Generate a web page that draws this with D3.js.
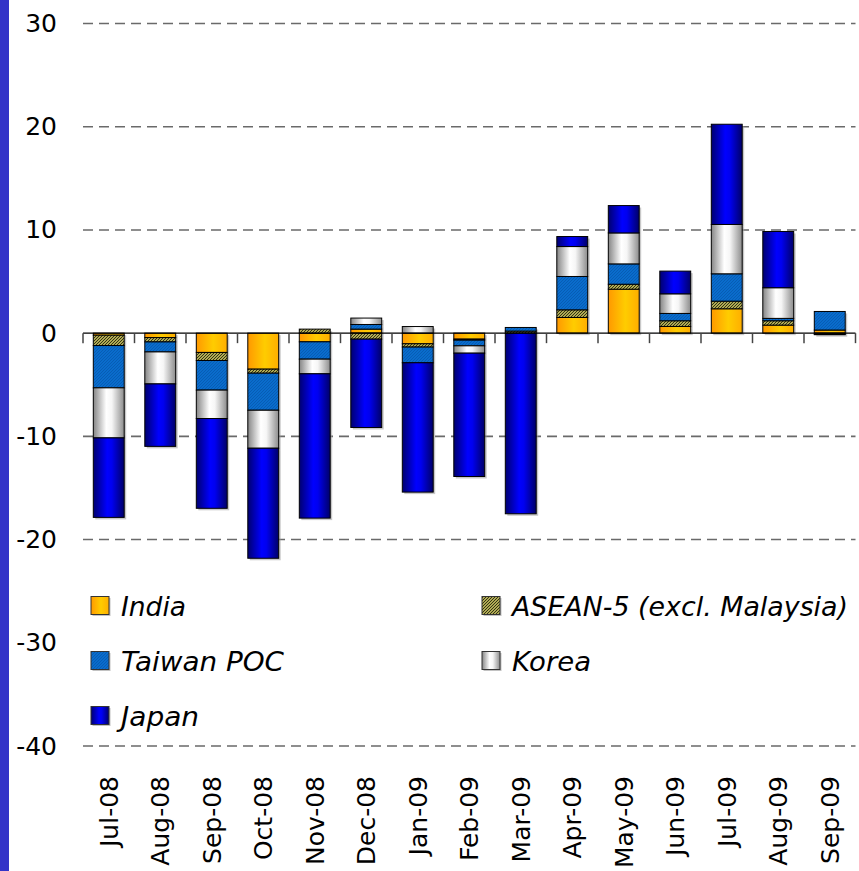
<!DOCTYPE html>
<html><head><meta charset="utf-8">
<script src="https://cdn.jsdelivr.net/npm/d3@7"></script>
<style>body{margin:0;background:#fff;} svg{display:block;}</style>
</head><body><script>
const months = ["Jul-08","Aug-08","Sep-08","Oct-08","Nov-08","Dec-08","Jan-09","Feb-09","Mar-09","Apr-09","May-09","Jun-09","Jul-09","Aug-09","Sep-09"];
const seriesNames = ["India","ASEAN-5 (excl. Malaysia)","Taiwan POC","Korea","Japan"];
const india  = [-0.2,-0.43,-1.87,-3.49,-0.84,0.39,-1.03,-0.58,0,1.52,4.26,0.65,2.36,0.78,0.3];
const asean  = [-1.0,-0.42,-0.78,-0.39,0.39,-0.58,-0.32,-0.1,0.2,0.74,0.48,0.55,0.74,0.42,-0.1];
const taiwan = [-4.1,-0.97,-2.87,-3.59,-1.68,0.45,-1.52,-0.55,0.35,3.23,1.97,0.71,2.65,0.23,1.8];
const korea  = [-4.85,-3.1,-2.75,-3.68,-1.42,0.62,0.64,-0.71,0,2.9,3.0,1.9,4.78,2.97,0];
const japan  = [-7.7,-6.05,-8.7,-10.66,-13.98,-8.56,-12.53,-11.95,-17.5,0.97,2.65,2.2,9.71,5.45,-0.05];
const yTicks = [30,20,10,0,-10,-20,-30,-40];

const seriesValues = [india, asean, taiwan, korea, japan];
const keys = ["india","asean","taiwan","korea","japan"];
const rows = months.map((m,i)=>{const r={month:m}; keys.forEach((k,j)=>r[k]=seriesValues[j][i]); return r;});

const W=859,H=871;
const svg = d3.select("body").append("svg").attr("width",W).attr("height",H);
const defs = svg.append("defs");

function grad(id, stops){
  const g = defs.append("linearGradient").attr("id",id).attr("x1","0").attr("x2","1").attr("y1","0").attr("y2","0");
  stops.forEach(s=>g.append("stop").attr("offset",s[0]).attr("stop-color",s[1]));
}
grad("gIndia",[[0,"#FF9900"],[0.55,"#FFCC00"],[1,"#FFAE00"]]);
grad("gKorea",[[0,"#858585"],[0.42,"#FFFFFF"],[0.6,"#F6F6F6"],[1,"#8C8C8C"]]);
grad("gJapan",[[0,"#000070"],[0.45,"#0000FF"],[0.6,"#0000F0"],[1,"#000068"]]);
const pA = defs.append("pattern").attr("id","pAsean").attr("patternUnits","userSpaceOnUse").attr("width",3).attr("height",3);
pA.append("rect").attr("width",3).attr("height",3).attr("fill","#E6DE70");
pA.append("path").attr("d","M-1,1 L1,-1 M0,3 L3,0 M2,4 L4,2").attr("stroke","#2a2a10").attr("stroke-width",1.1);
const pT = defs.append("pattern").attr("id","pTaiwan").attr("patternUnits","userSpaceOnUse").attr("width",3).attr("height",3);
pT.append("rect").attr("width",3).attr("height",3).attr("fill","#0A6CCC");
pT.append("path").attr("d","M0,3 L3,0").attr("stroke","#0556AA").attr("stroke-width",0.7);
const fills = {india:"url(#gIndia)",asean:"url(#pAsean)",taiwan:"url(#pTaiwan)",korea:"url(#gKorea)",japan:"url(#gJapan)"};

// left accent strip
svg.append("rect").attr("x",0).attr("y",0).attr("width",9).attr("height",H).attr("fill","#3434C8");

const x = d3.scaleBand().domain(months).range([83,855.5]).paddingInner(0.4).paddingOuter(0.2);
const y = d3.scaleLinear().domain([-40,30]).range([746,23.5]);

// gridlines
svg.append("g").selectAll("line").data(yTicks.filter(t=>t!==0)).join("line")
  .attr("x1",83).attr("x2",855.5).attr("y1",d=>y(d)).attr("y2",d=>y(d))
  .attr("stroke","#6a6a6a").attr("stroke-width",1.6).attr("stroke-dasharray","10,6");

// y labels
svg.append("g").selectAll("text").data(yTicks).join("text")
  .attr("x",57).attr("y",d=>y(d)).attr("text-anchor","end").attr("dominant-baseline","central")
  .attr("font-family","DejaVu Sans, Verdana, sans-serif").attr("font-size",25).attr("fill","#000")
  .text(d=>d);

// stack
const stack = d3.stack().keys(keys).offset(d3.stackOffsetDiverging);
const series = stack(rows);
const barsG = svg.append("g");
series.forEach(s=>{
  const g = barsG.append("g");
  const segs = s.filter(d=>Math.abs(d[1]-d[0])>1e-9);
  g.selectAll("rect.sh").data(segs).join("rect").attr("class","sh")
    .attr("x",d=>x(d.data.month)+2).attr("y",d=>Math.min(y(d[0]),y(d[1]))+2)
    .attr("width",x.bandwidth()).attr("height",d=>Math.abs(y(d[0])-y(d[1])))
    .attr("fill","#9a9a9a").attr("opacity",0.55);
});
series.forEach(s=>{
  const g = barsG.append("g");
  const segs = s.filter(d=>Math.abs(d[1]-d[0])>1e-9);
  g.selectAll("rect.b").data(segs).join("rect").attr("class","b")
    .attr("x",d=>x(d.data.month)).attr("y",d=>Math.min(y(d[0]),y(d[1])))
    .attr("width",x.bandwidth()).attr("height",d=>Math.abs(y(d[0])-y(d[1])))
    .attr("fill",fills[s.key]).attr("stroke","#000").attr("stroke-width",1);
});

// zero axis + ticks
const step = x.step();
const tickXs = d3.range(months.length+1).map(i=>x.range()[0]+i*step);
svg.append("line").attr("x1",83).attr("x2",855.5).attr("y1",y(0)).attr("y2",y(0)).attr("stroke","#000").attr("stroke-width",1.3);
svg.append("g").selectAll("line").data(tickXs).join("line")
  .attr("x1",d=>d).attr("x2",d=>d).attr("y1",y(0)).attr("y2",y(0)+10)
  .attr("stroke","#444").attr("stroke-width",1.5);

// x labels
svg.append("g").selectAll("text").data(months).join("text")
  .attr("transform",d=>`translate(${x(d)+x.bandwidth()/2+9},776) rotate(-90)`)
  .attr("text-anchor","end")
  .attr("font-family","DejaVu Sans, Verdana, sans-serif").attr("font-size",25).attr("fill","#000")
  .text(d=>d);

// legend
svg.append("rect").attr("x",82).attr("y",562).attr("width",776).attr("height",176).attr("fill","#fff");
const legendItems = [
  {k:"india", col:0,row:0,len:65},
  {k:"asean", col:1,row:0,len:336},
  {k:"taiwan",col:0,row:1,len:163},
  {k:"korea", col:1,row:1,len:79},
  {k:"japan", col:0,row:2,len:78}
];
const colX=[91,482], rowY=[606,661,716];
const lg = svg.append("g");
legendItems.forEach(it=>{
  const sx=colX[it.col], sy=rowY[it.row];
  lg.append("rect").attr("x",sx+1.5).attr("y",sy-8).attr("width",18).attr("height",18).attr("fill","#999").attr("opacity",0.6);
  lg.append("rect").attr("x",sx).attr("y",sy-9.5).attr("width",18).attr("height",18)
    .attr("fill",fills[it.k]).attr("stroke","#333").attr("stroke-width",1);
  lg.append("text").attr("x",sx+30).attr("y",sy).attr("dominant-baseline","central")
    .attr("font-family","DejaVu Sans, Verdana, sans-serif").attr("font-style","italic").attr("font-size",27)
    .attr("textLength",it.len).attr("lengthAdjust","spacingAndGlyphs")
    .text(seriesNames[keys.indexOf(it.k)]);
});
</script></body></html>
